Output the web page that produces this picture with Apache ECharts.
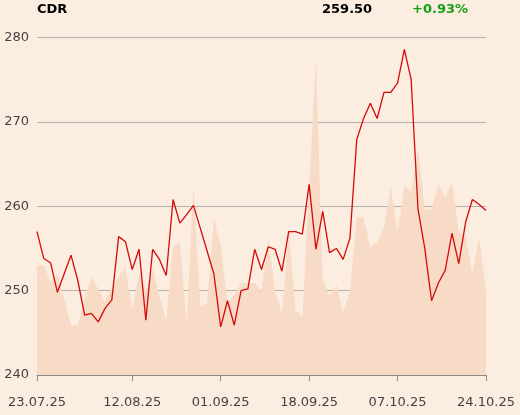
<!DOCTYPE html>
<html>
<head>
<meta charset="utf-8">
<script src="https://cdn.jsdelivr.net/npm/echarts@6/dist/echarts.min.js"></script>
<style>
html,body{margin:0;padding:0;background:#fcede1;}
#chart{width:520px;height:415px;}
</style>
</head>
<body>
<div id="chart"></div>
<script>
var dates = [
 '23.07.25','24.07.25','25.07.25','28.07.25','29.07.25','30.07.25','31.07.25',
 '01.08.25','04.08.25','05.08.25','06.08.25','07.08.25','08.08.25','11.08.25','12.08.25','13.08.25','14.08.25',
 '18.08.25','19.08.25','20.08.25','21.08.25','22.08.25','25.08.25','26.08.25','27.08.25','28.08.25','29.08.25',
 '01.09.25','02.09.25','03.09.25','04.09.25','05.09.25','08.09.25','09.09.25','10.09.25','11.09.25','12.09.25',
 '15.09.25','16.09.25','17.09.25','18.09.25','19.09.25','22.09.25','23.09.25','24.09.25','25.09.25','26.09.25',
 '29.09.25','30.09.25','01.10.25','02.10.25','03.10.25','06.10.25','07.10.25','08.10.25','09.10.25','10.10.25',
 '13.10.25','14.10.25','15.10.25','16.10.25','17.10.25','20.10.25','21.10.25','22.10.25','23.10.25','24.10.25'
];
var tickLabels = ['23.07.25','12.08.25','01.09.25','18.09.25','07.10.25','24.10.25'];
var price = [
 257.0,253.8,253.3,249.8,252.0,254.2,251.2,247.1,247.3,246.3,
 247.9,248.9,256.4,255.8,252.5,254.9,246.5,254.9,253.7,251.8,
 260.8,258.0,259.0,260.1,257.4,254.7,252.0,245.7,248.8,245.9,
 250.0,250.2,254.9,252.5,255.2,254.9,252.3,257.0,257.0,256.7,
 262.6,254.9,259.4,254.5,255.0,253.7,256.2,267.9,270.4,272.2,
 270.4,273.5,273.5,274.6,278.6,275.0,259.7,255.0,248.8,250.9,
 252.4,256.8,253.2,258.1,260.8,260.2,259.5
];
var shade = [
 253.0,253.0,251.0,251.9,249.0,245.9,245.9,249.0,251.6,250.2,
 248.7,250.4,251.6,252.8,247.7,252.0,250.0,252.6,249.3,246.5,
 255.2,255.8,246.1,262.5,248.1,248.5,258.5,255.4,248.6,249.5,
 250.9,250.9,250.9,249.9,256.2,249.9,247.3,257.2,247.7,246.9,
 262.0,277.7,251.4,249.3,250.7,247.5,249.9,258.7,258.7,255.2,
 255.8,257.4,262.3,256.9,262.5,261.7,267.0,259.5,259.7,262.5,
 261.1,262.7,257.0,256.5,252.0,256.4,250.0
];
var yTicks = [240, 250, 260, 270, 280];
var title = 'CDR', lastPrice = '259.50', change = '+0.93%';

var chart = echarts.init(document.getElementById('chart'), null, {renderer:'canvas'});
function showTick(idx, val){ return tickLabels.indexOf(dates[idx]) >= 0; }
chart.setOption({
  animation:false,
  backgroundColor:'#fcede1',
  textStyle:{fontFamily:'DejaVu Sans'},
  grid:{left:37,right:34,top:37.5,bottom:40,containLabel:false},
  graphic:[
    {type:'text',left:37,top:3,style:{text:title,font:'bold 13px "DejaVu Sans"',fill:'#000'}},
    {type:'text',left:322,top:3,style:{text:lastPrice,font:'bold 13px "DejaVu Sans"',fill:'#000'}},
    {type:'text',left:412,top:3,style:{text:change,font:'bold 13px "DejaVu Sans"',fill:'#14a014'}}
  ],
  xAxis:{
    type:'category',data:dates,boundaryGap:false,
    axisLine:{lineStyle:{color:'#8a8a8a',width:1}},
    axisTick:{show:true,interval:showTick,length:6,lineStyle:{color:'#8a8a8a'}},
    axisLabel:{interval:showTick,color:'#444',fontSize:13,margin:21,fontFamily:'DejaVu Sans'},
    splitLine:{show:false}
  },
  yAxis:{
    type:'value',min:yTicks[0],max:yTicks[yTicks.length-1],interval:10,
    axisLine:{show:false},axisTick:{show:false},
    axisLabel:{color:'#444',fontSize:13,margin:8,fontFamily:'DejaVu Sans'},
    splitLine:{lineStyle:{color:'#b5b0ac',width:1}}
  },
  series:[
    {type:'line',data:shade,symbol:'none',silent:true,z:1,
     lineStyle:{width:0},areaStyle:{color:'#f8dbc6',opacity:1}},
    {type:'line',data:price,symbol:'none',silent:true,z:3,
     lineStyle:{color:'#d40a0a',width:1.3}}
  ]
});
</script>
</body>
</html>
